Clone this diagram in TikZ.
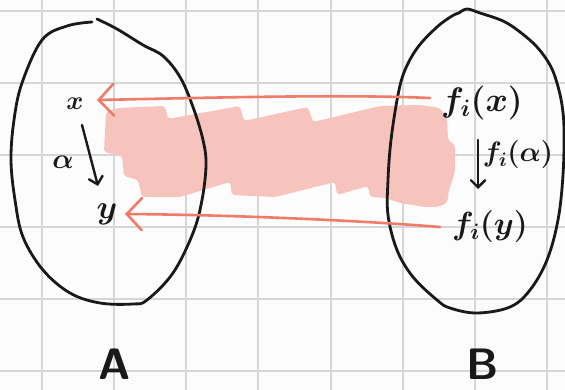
\RequirePackage{fix-cm}
\documentclass[tikz,border=0pt]{standalone}
\usetikzlibrary{arrows.meta}
\definecolor{gridgrey}{RGB}{214,214,214}
\definecolor{paper}{RGB}{252,252,252}
\definecolor{salmon}{RGB}{238,124,105}
\definecolor{blush}{RGB}{246,196,188}
\definecolor{inkc}{RGB}{25,25,25}
\begin{document}
\begin{tikzpicture}[x=1pt,y=-1pt,
  ink/.style={line width=2.8pt, inkc, line cap=round, line join=round},
  gridline/.style={gridgrey, line width=1.5pt},
  redarrow/.style={line width=2.6pt, salmon, line cap=round,
    -{Straight Barb[length=15pt,width=32pt,line cap=round]}},
  blackarrow/.style={line width=2.4pt, inkc, line cap=round,
    -{Straight Barb[length=7pt,width=14pt,line cap=round]}},
  lbl/.style={inner sep=0pt, text=inkc},
]
\fill[paper] (0,0) rectangle (565,390);
\useasboundingbox (0,0) rectangle (565,390);
% grid
\foreach \gx in {42,114,186,258,331,403,475,547}
  \draw[gridline] (\gx,0) -- (\gx,390);
\foreach \gy in {11,83,155,227,299,371}
  \draw[gridline] (0,\gy) -- (565,\gy);
% pink scribble
\fill[blush, rounded corners=3pt]
  (106,112) -- (118,108) -- (165,106) -- (168,119)
  -- (240,106) -- (244,121)
  -- (308,107) -- (313,122)
  -- (380,106) -- (420,105) -- (440,108) -- (447,118)
  -- (448,140) -- (455,145) -- (455,172) -- (449,190) -- (447,203)
  -- (438,207) -- (425,207) -- (400,203) -- (385,198) -- (370,197)
  -- (368,186) -- (337,195) -- (335,182)
  -- (275,197) -- (232,195) -- (230,182)
  -- (180,197) -- (142,197)
  -- (138,180) -- (124,176) -- (122,156) -- (104,152) -- cycle;
% set A
\draw[ink] plot[smooth, tension=0.6] coordinates {
  (97,19) (117,29) (143,45) (163,56) (180,77) (193,107) (203,140)
  (206,165) (202,200) (193,233) (173,273) (147,300) (133,304) (100,303)
  (70,293) (43,270) (23,237) (15,200) (11,160) (14,120) (22,83)
  (42,40) (67,26) (92,22)};
% set B
\draw[ink] plot[smooth, tension=0.6] coordinates {
  (459,13) (467,9) (480,13) (503,21) (520,32) (537,47) (550,65) (557,83)
  (562,105) (564,130) (563,175) (558,220) (547,260) (530,290) (510,307)
  (477,313) (450,308) (437,300) (413,277) (397,250) (388,215) (388,180)
  (391,140) (398,95) (405,70) (418,47) (437,27) (452,16) (459,13)};
% labels
\node[lbl, font=\fontsize{26}{26}\selectfont\boldmath] (x) at (75,104) {$x$};
\node[lbl, font=\fontsize{28}{28}\selectfont\boldmath] (alpha) at (63,162) {$\alpha$};
\node[lbl, font=\fontsize{33}{33}\selectfont\boldmath] (y) at (107,214) {$y$};
\node[lbl, font=\fontsize{34}{34}\selectfont\boldmath] (fx) at (482,103) {$f_i(x)$};
\node[lbl, font=\fontsize{28}{28}\selectfont\boldmath] (fa) at (518,155) {$f_i(\alpha)$};
\node[lbl, font=\fontsize{32}{32}\selectfont\boldmath] (fy) at (490,227) {$f_i(y)$};
\node[lbl, font=\fontsize{44}{44}\selectfont\sffamily\bfseries] (A) at (115,364) {A};
\node[lbl, font=\fontsize{44}{44}\selectfont\sffamily\bfseries] (B) at (483,364) {B};
% connectors
\draw[redarrow] ([shift={(-52,-5)}]fx.center)
  .. controls (340,94) and (200,98) .. ([shift={(22,-4)}]x.center);
\draw[redarrow] ([shift={(-50,0)}]fy.center)
  .. controls (380,222) and (250,215) .. ([shift={(18,0)}]y.center);
\draw[blackarrow] ([shift={(7,21)}]x.center) -- ([shift={(-9,-28)}]y.center);
\draw[blackarrow] ([shift={(-4,37)}]fx.center) -- ([shift={(-12,-38)}]fy.center);
\end{tikzpicture}
\end{document}
